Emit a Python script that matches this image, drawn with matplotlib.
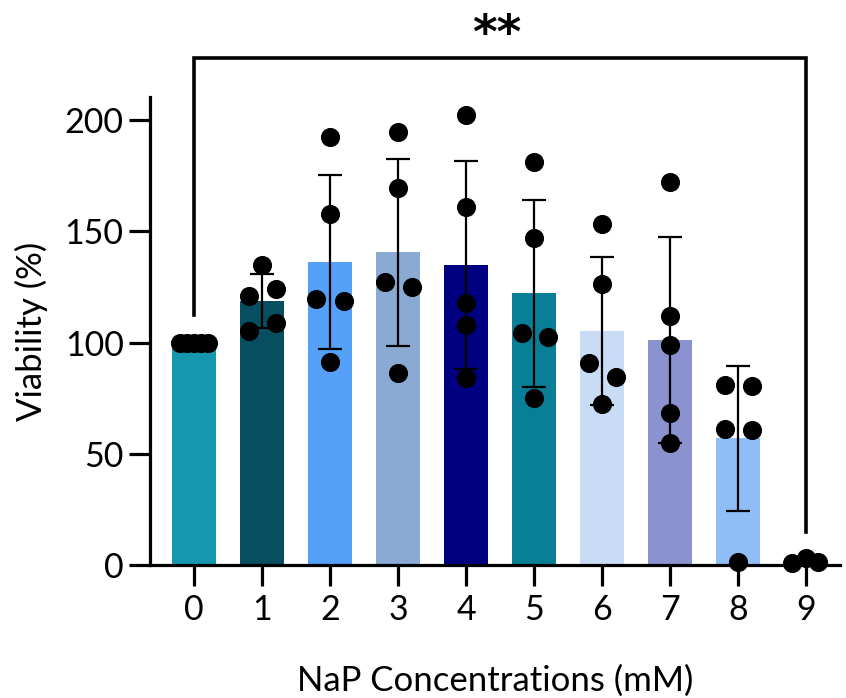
import matplotlib
matplotlib.use("Agg")
import matplotlib.pyplot as plt
import numpy as np

plt.rcParams['font.family'] = ['Lato', 'DejaVu Sans']

categories = ["0", "1", "2", "3", "4", "5", "6", "7", "8", "9"]
means = [100, 118.7, 136.2, 140.5, 134.7, 122.1, 105.3, 101.1, 56.9, 1.5]
sds = [0, 12.0, 39.1, 42.2, 46.8, 41.9, 33.3, 46.2, 32.6, 1.0]
colors = ["#1597b0", "#064e60", "#55a0f8", "#8aaad4", "#000080",
          "#087f96", "#c8dcf5", "#8a93d0", "#8fbdf5", "#ffffff"]

# individual replicate values and horizontal jitter (per group)
points = [
    [100, 100, 100, 100, 100],
    [134.8, 121.0, 124.0, 105.3, 108.8],
    [192.5, 158.0, 119.8, 118.7, 91.4],
    [194.8, 169.7, 127.3, 125.1, 86.1],
    [202.5, 161.0, 117.6, 107.9, 83.9],
    [181.3, 146.8, 104.4, 102.6, 74.9],
    [153.1, 126.3, 90.9, 84.6, 72.2],
    [172.3, 112.0, 98.9, 68.5, 54.7],
    [80.9, 80.4, 61.1, 60.7, 1.5],
    [0.8, 3.0, 1.5],
]
jitter = [
    [-0.2, -0.1, 0.0, 0.1, 0.2],
    [0.0, -0.19, 0.2, -0.19, 0.2],
    [0.0, 0.0, -0.2, 0.2, 0.0],
    [0.0, 0.0, -0.19, 0.2, 0.0],
    [0.0, 0.0, 0.0, 0.0, 0.0],
    [0.0, 0.0, -0.18, 0.2, 0.0],
    [0.0, 0.0, -0.19, 0.2, 0.0],
    [0.0, 0.0, 0.0, 0.0, 0.0],
    [-0.19, 0.2, -0.19, 0.2, 0.0],
    [-0.2, 0.0, 0.18],
]

fig = plt.figure(figsize=(8.46, 6.98), dpi=100)
ax = fig.add_axes([150/846, 133/698, 690/846, 468/698])

x = np.arange(len(categories))
ax.bar(x, means, width=0.66, color=colors, zorder=1)
ax.errorbar(x, means, yerr=sds, fmt='none', ecolor='black', elinewidth=1.6,
            capsize=8.5, capthick=1.6, zorder=2)
for i, (vals, jit) in enumerate(zip(points, jitter)):
    ax.scatter(np.array(jit) + i, vals, s=190, color='black', zorder=3,
               clip_on=False, linewidths=0)

ax.set_xlim(-0.647, 9.5)
ax.set_ylim(0, 210.4)
ax.set_yticks([0, 50, 100, 150, 200])
ax.set_xticks(x)
ax.set_xticklabels(categories)
for s in ['top', 'right']:
    ax.spines[s].set_visible(False)
for s in ['left', 'bottom']:
    ax.spines[s].set_linewidth(2.3)
ax.tick_params(axis='both', length=15, width=2.3, labelsize=24.5)
ax.tick_params(axis='x', pad=6)
ax.tick_params(axis='y', pad=4)

ax.set_xlabel("NaP Concentrations (mM)", fontsize=25, labelpad=28)
ax.set_ylabel("Viability (%)", fontsize=25, labelpad=12)

# significance bracket
ax.plot([0, 0, 9, 9], [112.4, 227.9, 227.9, 14.8], color='black', lw=2.6,
        clip_on=False, solid_joinstyle='miter', zorder=4)
ax.text(4.45, 238, "**", ha='center', va='center', fontsize=34,
        fontweight='heavy', family=['DejaVu Sans'], clip_on=False)

fig.savefig("out.png", dpi=100)
